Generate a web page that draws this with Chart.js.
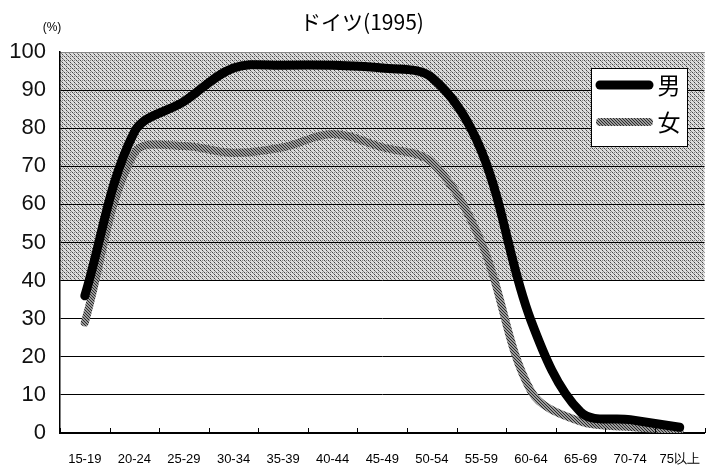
<!DOCTYPE html>
<html>
<head>
<meta charset="utf-8">
<script src="https://cdn.jsdelivr.net/npm/chart.js@4/dist/chart.umd.min.js"></script>
<style>
  body { margin: 0; background: #fff; }
  #wrap { width: 711px; height: 472px; }
</style>
</head>
<body>
<div id="wrap"><canvas id="c" width="711" height="472"></canvas></div>
<script>
const ages = ['15-19', '20-24', '25-29', '30-34', '35-39', '40-44', '45-49', '50-54', '55-59', '60-64', '65-69', '70-74', '75以上'];
const male = [36, 79, 87, 95.8, 96.5, 96.5, 95.8, 93.3, 74, 29.5, 5.5, 3.5, 1.5];
const female = [29, 73.5, 75.3, 73.5, 75, 78.5, 75, 71, 50, 11, 3, 1.6, 0.8];
const seriesNames = ['男', '女'];
const titleText = 'ドイツ(1995)';
const unitText = '(%)';

// halftone-ish patterns
function makePattern(size, paint) {
    const c = document.createElement('canvas');
    c.width = size; c.height = size;
    const g = c.getContext('2d');
    paint(g);
    return g.createPattern(c, 'repeat');
}
const bgDots = makePattern(4, g => {
    g.fillStyle = '#dcdcdc'; g.fillRect(0, 0, 4, 4);
    g.fillStyle = '#444'; g.fillRect(0, 0, 1, 1); g.fillRect(2, 2, 1, 1);
    g.fillStyle = '#888'; g.fillRect(1, 1, 1, 1); g.fillRect(3, 3, 1, 1); g.fillRect(2, 0, 1, 1);
});
const femaleDots = makePattern(3, g => {
    g.fillStyle = '#9a9a9a'; g.fillRect(0, 0, 3, 3);
    g.fillStyle = '#2a2a2a'; g.fillRect(0, 0, 1, 1); g.fillRect(1, 1, 1, 1); g.fillRect(2, 2, 1, 1);
});

const decor = {
    id: 'decor',
    beforeDraw(chart) {
        const { ctx, chartArea: a, scales: { y } } = chart;
        ctx.save();
        ctx.fillStyle = bgDots;
        const top = y.getPixelForValue(100), mid = y.getPixelForValue(40);
        ctx.fillRect(a.left, top, a.right - a.left, mid - top);
        ctx.restore();
    },
    afterDraw(chart) {
        const { ctx, chartArea: a, scales: { x } } = chart;
        ctx.save();
        // title and unit
        ctx.fillStyle = '#000';
        ctx.textAlign = 'center';
        ctx.textBaseline = 'middle';
        ctx.font = '21px "Noto Sans CJK JP"';
        ctx.fillText(titleText, 362, 22);
        ctx.font = '12px "Liberation Sans"';
        ctx.fillText(unitText, 52, 28);
        // tick marks between categories, pointing up
        ctx.strokeStyle = '#000';
        ctx.lineWidth = 1;
        for (let i = 0; i <= ages.length; i++) {
            const px = Math.round(x.getPixelForValue(i - 0.5)) + 0.5;
            ctx.beginPath();
            ctx.moveTo(px, a.bottom);
            ctx.lineTo(px, a.bottom - 5);
            ctx.stroke();
        }
        // legend box
        const lx = 591, ly = 68, lw = 96, lh = 78;
        ctx.fillStyle = '#fff';
        ctx.fillRect(lx, ly, lw, lh);
        ctx.strokeStyle = '#000';
        ctx.strokeRect(lx + 0.5, ly + 0.5, lw, lh);
        const rows = [[chart.data.datasets[0], 85], [chart.data.datasets[1], 122]];
        rows.forEach(([ds, ry]) => {
            ctx.strokeStyle = ds.borderColor;
            ctx.lineWidth = ds.borderWidth;
            ctx.lineCap = 'round';
            ctx.beginPath();
            ctx.moveTo(600, ry);
            ctx.lineTo(649, ry);
            ctx.stroke();
            ctx.fillStyle = '#000';
            ctx.font = '23px "Noto Sans CJK JP"';
            ctx.textAlign = 'center';
            ctx.fillText(ds.label, 669, ry);
        });
        ctx.restore();
    }
};

new Chart(document.getElementById('c'), {
    type: 'line',
    data: {
        labels: ages,
        datasets: [{
            label: seriesNames[0],
            data: male,
            borderColor: '#000',
            borderWidth: 9,
            tension: 0.35,
            pointRadius: 0,
            borderCapStyle: 'round',
            fill: false,
        }, {
            label: seriesNames[1],
            data: female,
            borderColor: femaleDots,
            borderWidth: 8,
            tension: 0.35,
            pointRadius: 0,
            borderCapStyle: 'round',
            fill: false,
        }]
    },
    options: {
        responsive: false,
        animation: false,
        devicePixelRatio: 1,
        layout: { padding: { top: 52, right: 1, left: 0, bottom: 0 } },
        plugins: {
            legend: { display: false },
            title: { display: false },
            tooltip: { enabled: false }
        },
        scales: {
            x: {
                offset: true,
                grid: { display: false },
                border: { display: true, color: '#000', width: 2 },
                ticks: {
                    color: '#000',
                    padding: 11,
                    maxRotation: 0,
                    autoSkip: false,
                    font: { family: '"Liberation Sans Narrow", "Liberation Sans"', size: 13 }
                },
                afterFit: s => { s.height = 39; }
            },
            y: {
                min: 0,
                max: 100,
                ticks: {
                    stepSize: 10,
                    color: '#111',
                    padding: 14,
                    font: { family: '"Liberation Sans", Arial', size: 22 }
                },
                grid: {
                    drawTicks: false,
                    color: c => c.tick && c.tick.value === 100 ? '#888' : '#000',
                    lineWidth: 1
                },
                border: { display: true, color: '#000', width: 1.5 },
                afterFit: s => { s.width = 60; }
            }
        }
    },
    plugins: [decor]
});
</script>
</body>
</html>
